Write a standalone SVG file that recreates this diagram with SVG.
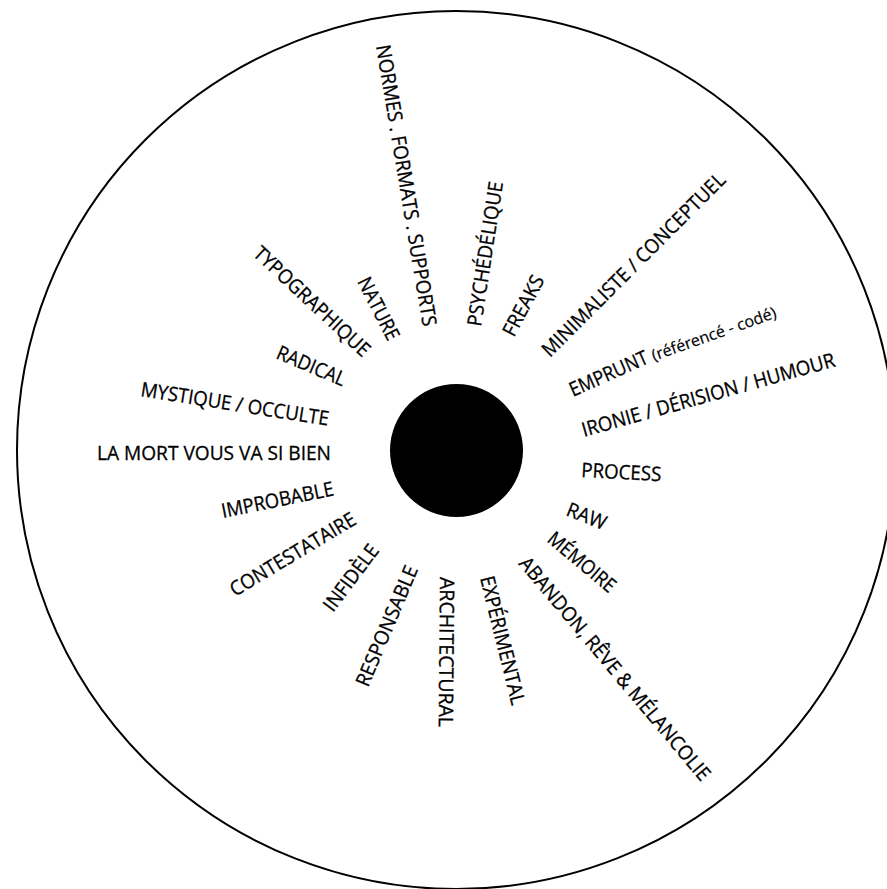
<svg xmlns="http://www.w3.org/2000/svg" width="887" height="889" viewBox="0 0 887 889">
<style>
  .lbl { font-family: "Open Sans", "Noto Sans", "Liberation Sans", sans-serif; font-size: 20px; fill: #000; stroke: #000; stroke-width: 0.3; }
  .small { font-size: 16px; stroke-width: 0.2; }
  .outer { fill: none; stroke: #000; stroke-width: 2; }
</style>
<rect width="887" height="889" fill="#fff"/>
<g id="disc-outline"><circle class="outer" cx="456" cy="450" r="439"/></g>
<g id="center"><circle cx="456.5" cy="450.5" r="66.5" fill="#000"/></g>

<g id="normes"><text class="lbl" transform="translate(376,46) rotate(80.5)" textLength="285" lengthAdjust="spacingAndGlyphs">NORMES . FORMATS . SUPPORTS</text></g>
<g id="psychedelique"><text class="lbl" transform="translate(481,327) rotate(-81.3)" textLength="146" lengthAdjust="spacingAndGlyphs">PSYCHÉDÉLIQUE</text></g>
<g id="freaks"><text class="lbl" transform="translate(514,338) rotate(-62)" textLength="66" lengthAdjust="spacingAndGlyphs">FREAKS</text></g>
<g id="minimaliste"><text class="lbl" transform="translate(550,358) rotate(-45)" textLength="250" lengthAdjust="spacingAndGlyphs">MINIMALISTE / CONCEPTUEL</text></g>
<g id="emprunt">
  <text class="lbl" transform="translate(573,397) rotate(-24)" textLength="84" lengthAdjust="spacingAndGlyphs">EMPRUNT</text>
  <text class="lbl small" transform="translate(654,361) rotate(-19.5)" textLength="131" lengthAdjust="spacingAndGlyphs">(référencé - codé)</text>
</g>
<g id="ironie"><text class="lbl" transform="translate(584,437) rotate(-15.7)" textLength="262" lengthAdjust="spacingAndGlyphs">IRONIE / DÉRISION / HUMOUR</text></g>
<g id="process"><text class="lbl" transform="translate(581,477) rotate(3)" textLength="80" lengthAdjust="spacingAndGlyphs">PROCESS</text></g>
<g id="raw"><text class="lbl" transform="translate(565,515) rotate(21.5)" textLength="41" lengthAdjust="spacingAndGlyphs">RAW</text></g>
<g id="memoire"><text class="lbl" transform="translate(546,541) rotate(40)" textLength="82" lengthAdjust="spacingAndGlyphs">MÉMOIRE</text></g>
<g id="abandon"><text class="lbl" transform="translate(518,564) rotate(50)" textLength="285" lengthAdjust="spacingAndGlyphs">ABANDON, RÊVE &amp; MÉLANCOLIE</text></g>
<g id="experimental"><text class="lbl" transform="translate(480,578) rotate(76)" textLength="132" lengthAdjust="spacingAndGlyphs">EXPÉRIMENTAL</text></g>
<g id="architectural"><text class="lbl" transform="translate(440,577) rotate(90.5)" textLength="150" lengthAdjust="spacingAndGlyphs">ARCHITECTURAL</text></g>
<g id="responsable"><text class="lbl" transform="translate(368,688) rotate(-67)" textLength="129" lengthAdjust="spacingAndGlyphs">RESPONSABLE</text></g>
<g id="infidele"><text class="lbl" transform="translate(333,613) rotate(-53)" textLength="78" lengthAdjust="spacingAndGlyphs">INFIDÈLE</text></g>
<g id="contestataire"><text class="lbl" transform="translate(235,597) rotate(-31)" textLength="143" lengthAdjust="spacingAndGlyphs">CONTESTATAIRE</text></g>
<g id="improbable"><text class="lbl" transform="translate(223,518) rotate(-11.5)" textLength="114" lengthAdjust="spacingAndGlyphs">IMPROBABLE</text></g>
<g id="lamort"><text class="lbl" transform="translate(97,460)" textLength="234" lengthAdjust="spacingAndGlyphs">LA MORT VOUS VA SI BIEN</text></g>
<g id="mystique"><text class="lbl" transform="translate(140,396) rotate(9)" textLength="190" lengthAdjust="spacingAndGlyphs">MYSTIQUE / OCCULTE</text></g>
<g id="radical"><text class="lbl" transform="translate(275,358) rotate(23)" textLength="73" lengthAdjust="spacingAndGlyphs">RADICAL</text></g>
<g id="typographique"><text class="lbl" transform="translate(252,255) rotate(43)" textLength="151" lengthAdjust="spacingAndGlyphs">TYPOGRAPHIQUE</text></g>
<g id="nature"><text class="lbl" transform="translate(357,281.5) rotate(63)" textLength="68" lengthAdjust="spacingAndGlyphs">NATURE</text></g>
</svg>
